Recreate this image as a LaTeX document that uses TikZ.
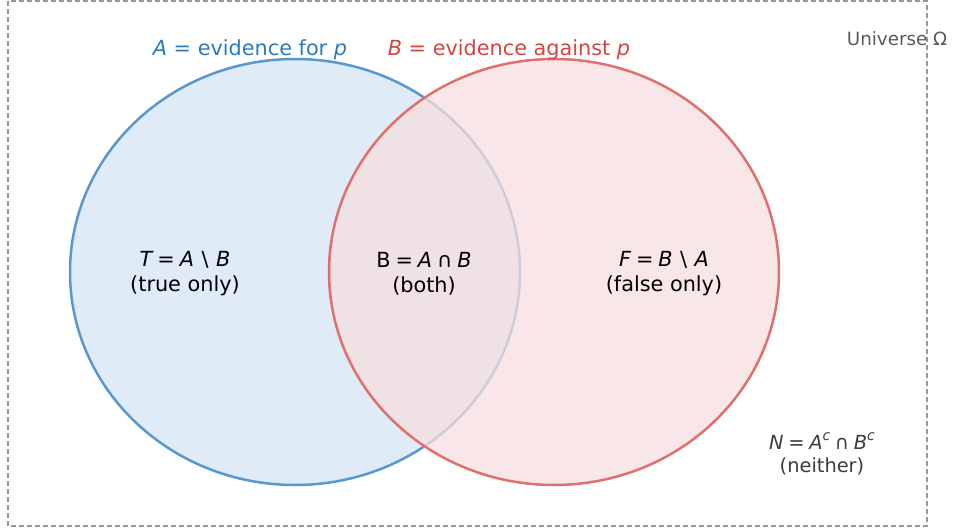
\documentclass[tikz,border=0pt]{standalone}
\usepackage{fontspec}
\usetikzlibrary{shapes.geometric}
\setmainfont{DejaVu Sans}
\definecolor{blueedge}{RGB}{88,152,204}
\definecolor{bluefill}{RGB}{223,235,246}
\definecolor{rededge}{RGB}{224,112,112}
\definecolor{redfill}{RGB}{247,222,224}
\definecolor{bluetext}{RGB}{44,124,188}
\definecolor{redtext}{RGB}{212,68,68}
\definecolor{frame}{RGB}{150,150,150}
\definecolor{univ}{RGB}{90,90,90}
\definecolor{ntext}{RGB}{60,60,60}
\newcommand{\mi}[1]{{\itshape #1}}
\newcommand{\ms}{\hspace{0.24em}}
\newcommand{\mb}{\hspace{0.36em}}
\newcommand{\supc}{\raisebox{0.45em}{\fontsize{14}{14}\selectfont\itshape c}}
\begin{document}
\begin{tikzpicture}[x=1pt,y=-1pt,
  setlabel/.style={font=\fontsize{20.8}{25}\selectfont, align=center, inner sep=0pt},
  titlelabel/.style={font=\fontsize{20.8}{25}\selectfont, inner sep=0pt},
  smalllabel/.style={font=\fontsize{19.4}{23.5}\selectfont, align=center, inner sep=0pt},
]
\useasboundingbox (0,0) rectangle (953,530);
\draw[frame, line width=1.3pt, dash pattern=on 5pt off 3pt] (8,1) rectangle (927,526);
% sets
\node[draw=blueedge, fill=bluefill, line width=2.5pt, ellipse, minimum width=450pt, minimum height=426pt, inner sep=0pt] (setA) at (295,272) {};
\path[fill=redfill, fill opacity=0.75] (554,272) ellipse [x radius=225, y radius=213];
\node[draw=rededge, line width=2.5pt, ellipse, minimum width=450pt, minimum height=426pt, inner sep=0pt] (setB) at (554,272) {};
% titles
\node[titlelabel, text=bluetext] (tA) at (250,50) {\mi{A} = evidence for \mi{p}};
\node[titlelabel, text=redtext] (tB) at (509,50) {\mi{B} = evidence against \mi{p}};
\node[font=\fontsize{18.3}{22}\selectfont, text=univ, inner sep=0pt] (omega) at (897,39) {Universe Ω};
% regions
\node[setlabel] (T) at (185,274) {\mi{T}\ms=\ms\mi{A}\mb\textbackslash\mb\mi{B}\\(true only)};
\node[setlabel] (Both) at (424,274) {B\ms=\ms\mi{A}\ms∩\ms\mi{B}\\(both)};
\node[setlabel] (F) at (664,274) {\mi{F}\ms=\ms\mi{B}\mb\textbackslash\mb\mi{A}\\(false only)};
\node[smalllabel, text=ntext] (N) at (822,454) {\mi{N}\ms=\ms\mi{A}\supc\ms∩\ms\mi{B}\supc\\(neither)};
\end{tikzpicture}
\end{document}
